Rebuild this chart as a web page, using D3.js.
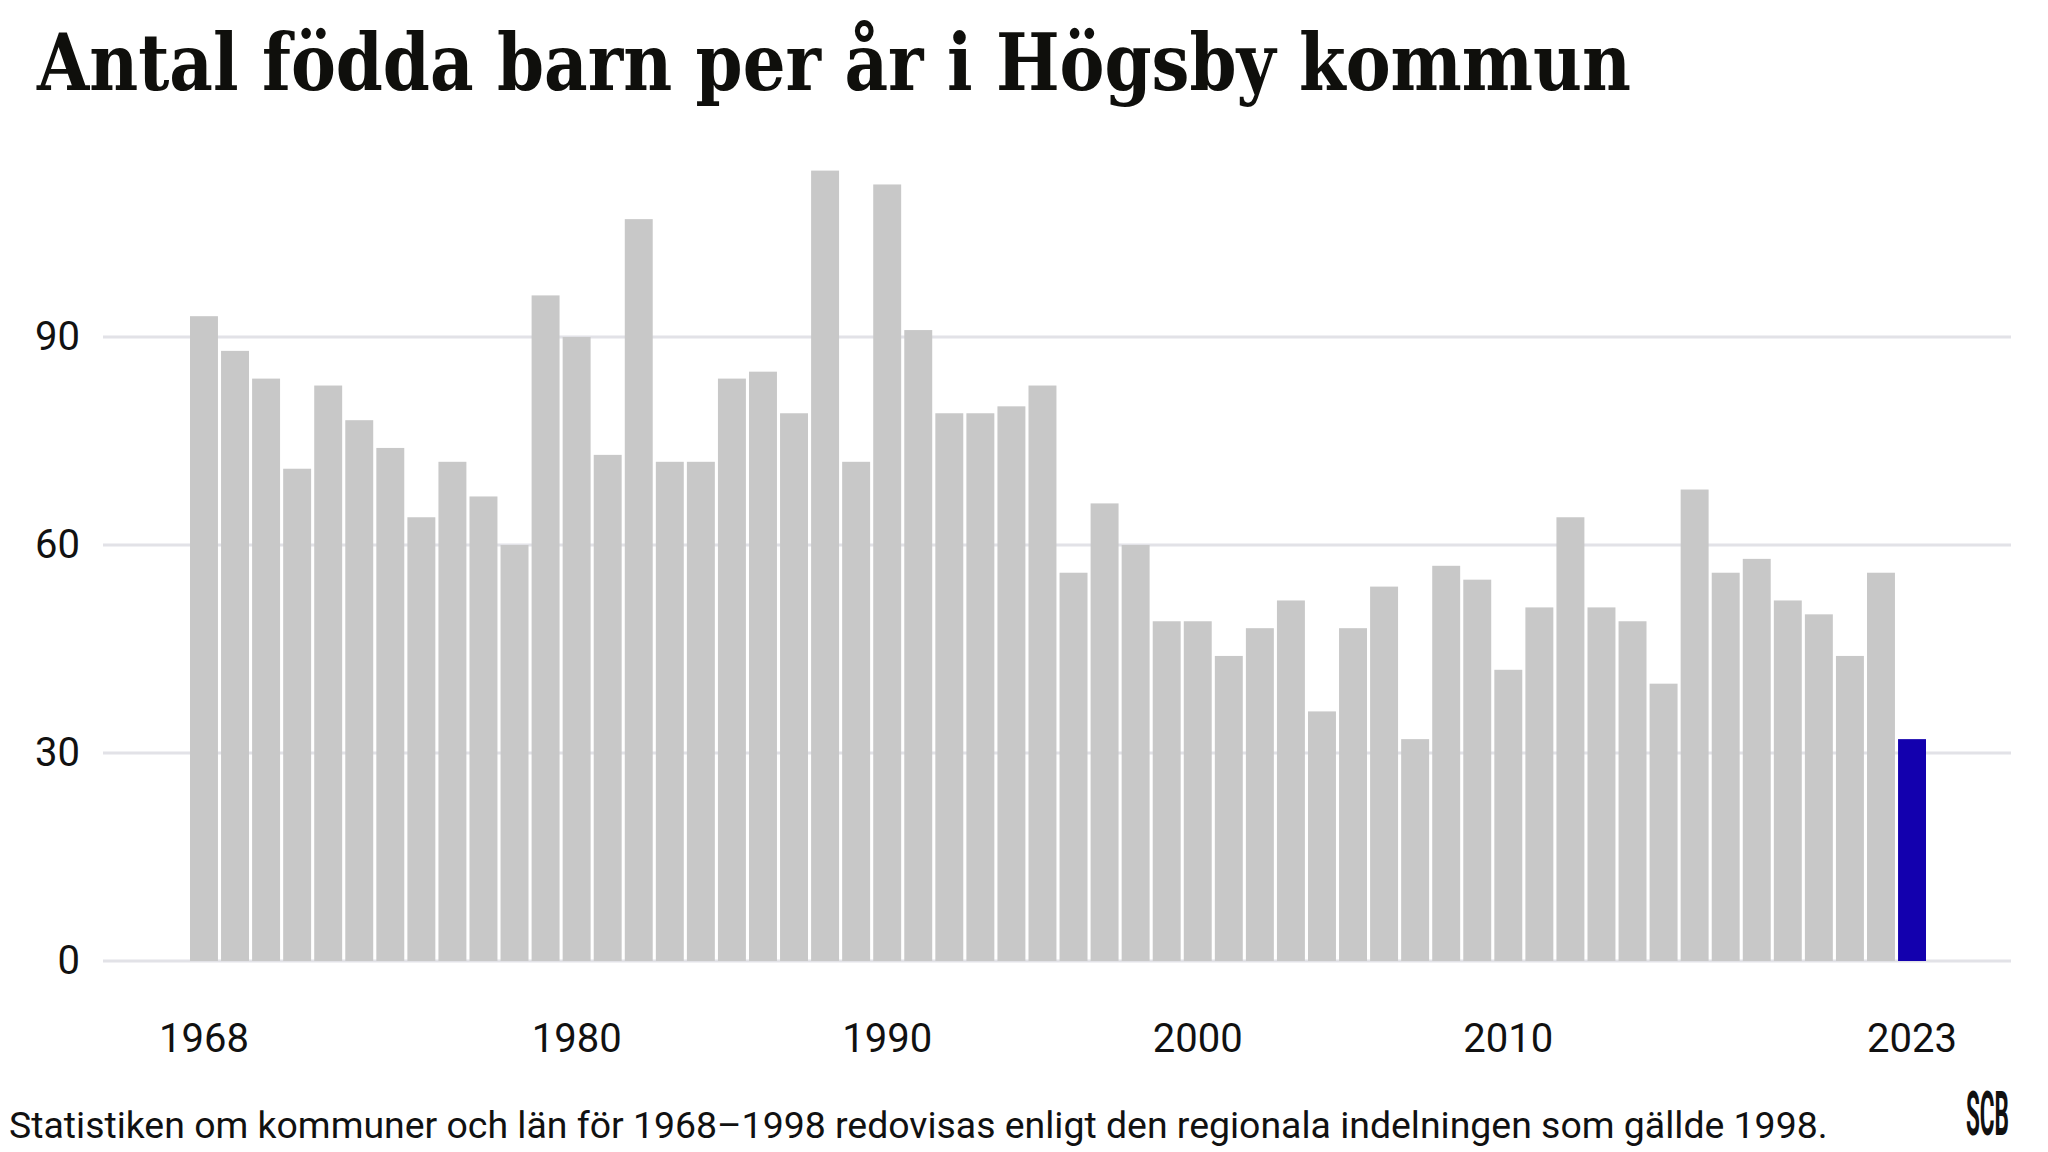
<!DOCTYPE html>
<html>
<head>
<meta charset="utf-8">
<script src="https://cdn.jsdelivr.net/npm/d3@7"></script>
<style>
  html, body { margin: 0; padding: 0; background: #ffffff; }
  svg { display: block; }
</style>
</head>
<body>
<svg id="chart" width="2048" height="1152"></svg>
<script>
const years = d3.range(1968, 2024);
const births = [93, 88, 84, 71, 83, 78, 74, 64, 72, 67, 60, 96, 90, 73, 107, 72, 72, 84, 85, 79,
                114, 72, 112, 91, 79, 79, 80, 83, 56, 66, 60, 49, 49, 44, 48, 52, 36, 48, 54, 32,
                57, 55, 42, 51, 64, 51, 49, 40, 68, 56, 58, 52, 50, 44, 56, 32];
const yTicks = [0, 30, 60, 90];
const xTickLabels = [1968, 1980, 1990, 2000, 2010, 2023];
const highlightYear = 2023;
const titleText = "Antal födda barn per år i Högsby kommun";
const noteText = "Statistiken om kommuner och län för 1968–1998 redovisas enligt den regionala indelningen som gällde 1998.";
const data = years.map((y, i) => ({ year: y, value: births[i] }));

const svg = d3.select("#chart");

const x = d3.scaleBand().domain(years).range([190, 1926]).paddingInner(0.1).paddingOuter(0);
const y = d3.scaleLinear().domain([0, 90]).range([961, 337]);

// title
svg.append("text")
  .attr("x", 37).attr("y", 90)
  .attr("font-family", "'DejaVu Serif', serif")
  .attr("font-weight", "bold")
  .attr("font-size", 79)
  .attr("textLength", 1594)
  .attr("lengthAdjust", "spacingAndGlyphs")
  .attr("fill", "#0f0f0c")
  .text(titleText);

// gridlines
svg.append("g").selectAll("line").data(yTicks).join("line")
  .attr("x1", 103).attr("x2", 2011)
  .attr("y1", d => y(d)).attr("y2", d => y(d))
  .attr("stroke", "#e2e2e7").attr("stroke-width", 3);

// y axis labels
const yAxis = d3.axisLeft(y).tickValues(yTicks).tickSize(0).tickPadding(0);
const gy = svg.append("g").attr("transform", "translate(80,0)").call(yAxis);
gy.select(".domain").remove();
gy.selectAll("text")
  .attr("font-family", "Roboto, sans-serif")
  .attr("font-size", 40)
  .attr("fill", "#111111");

// bars
svg.append("g").selectAll("rect").data(data).join("rect")
  .attr("x", d => x(d.year))
  .attr("width", x.bandwidth())
  .attr("y", d => y(d.value))
  .attr("height", d => y(0) - y(d.value))
  .attr("fill", d => d.year === highlightYear ? "#1300ae" : "#c8c8c8");

// x axis labels
const xAxis = d3.axisBottom(x).tickValues(xTickLabels).tickSize(0).tickPadding(0);
const gx = svg.append("g").attr("transform", "translate(0,1052)").call(xAxis);
gx.select(".domain").remove();
gx.selectAll("text")
  .attr("dy", 0)
  .attr("font-family", "Roboto, sans-serif")
  .attr("font-size", 40)
  .attr("fill", "#111111");

// footnote
const note = svg.append("text")
  .attr("x", 9).attr("y", 1138)
  .attr("font-family", "Roboto, sans-serif")
  .attr("font-size", 36)
  .attr("fill", "#111111")
  .text(noteText);
const nw = note.node().getComputedTextLength();
note.attr("font-size", 36 * 1819 / nw);

// logo (condensed via horizontal scale)
const logoG = svg.append("g");
const logo = logoG.append("text")
  .attr("x", 0).attr("y", 0)
  .attr("font-family", "Roboto, sans-serif")
  .attr("font-weight", "bold")
  .attr("font-size", 62)
  .attr("fill", "#111111")
  .text("SCB");
const lw = logo.node().getComputedTextLength();
logoG.attr("transform", `translate(1966,1135) scale(${43 / lw},1)`);
</script>
</body>
</html>
